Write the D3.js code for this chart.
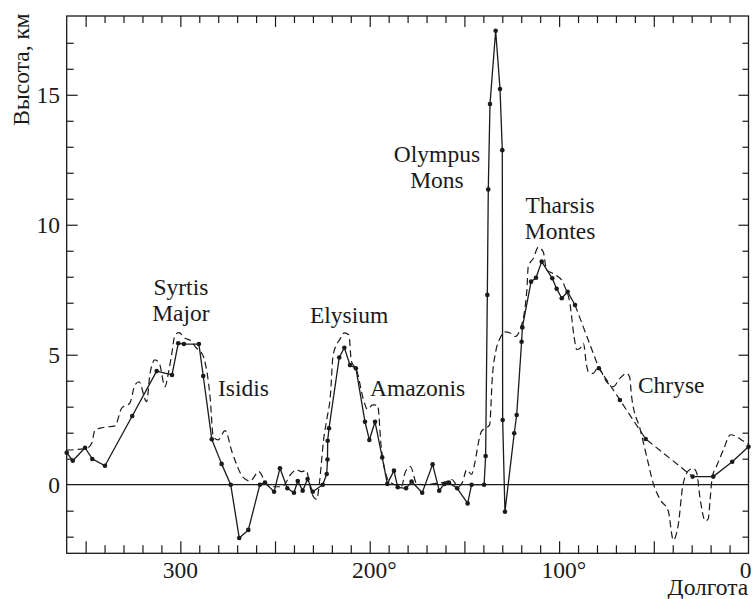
<!DOCTYPE html>
<html>
<head>
<meta charset="utf-8">
<script src="https://cdn.jsdelivr.net/npm/d3@7"></script>
<style>
  html, body { margin: 0; padding: 0; background: #fff; }
  svg { display: block; }
  text { font-family: "Liberation Serif", "DejaVu Serif", serif; fill: #1a1a1a; }
</style>
</head>
<body>
<svg id="chart" width="752" height="599"></svg>
<script>
// Elevation profile along the equator: measured points (solid, with dots)
const profileLon = [360,356.8,350.3,346.5,339.8,325.4,312.5,304.4,301.1,298.1,290.2,287.9,283.4,278.2,273.4,268.9,264.1,258,255.3,250.5,247.4,243.5,240,238,235.4,232.8,230.1,224.8,222.7,222.3,222.2,221.5,216.1,213.4,210.4,207.3,202.5,200.2,197.2,193.4,190.7,187.2,185.2,180.8,177.9,172.3,166.8,163.3,160.6,158.2,153.8,148.3,146.2,139.6,138.8,137.9,137.4,136.5,133.5,131.2,130.0,129.8,128.6,123.7,122.4,119.8,119.4,114.8,112.2,109.2,103.6,101.3,98.6,95.5,91.6,79,67.9,54.3,29.5,18.6,8.6,0];
const profileH = [1.23,0.92,1.42,0.99,0.73,2.64,4.37,4.22,5.44,5.41,5.41,4.18,1.75,0.80,0.0,-2.05,-1.74,0.0,0.08,-0.27,0.63,-0.14,-0.31,0.14,-0.23,0.22,-0.27,0.0,0.41,0.97,1.69,2.17,4.89,5.27,4.6,4.48,2.42,1.72,2.42,1.05,0.03,0.54,-0.1,-0.14,0.12,-0.31,0.78,-0.23,0.03,0.08,-0.14,-0.72,0.0,0.0,1.1,7.3,11.36,14.64,17.46,15.22,12.87,2.49,-1.04,1.98,2.68,5.5,6.05,7.81,7.96,8.58,7.94,7.54,7.17,7.42,6.91,4.48,3.26,1.76,0.31,0.31,0.88,1.46];
// Longitude span where the measured profile is bridged (drawn dashed)
const bridgeFrom = 91.6, bridgeTo = 29.5;

// Second profile (dashed, no markers)
const modelLon = [360,349.4,346.8,345.1,340.7,334.5,331,326.6,324,321.8,317.8,316,313.4,311.1,308.1,306.5,304.6,302.8,300.7,297.5,294.9,291.4,289.6,287.5,284.3,282.6,280,276.4,272.5,266.8,263.2,258.5,255.3,252.7,246.5,241.2,238.6,236,233.6,230.6,228,226.4,224.4,222.7,220.8,219.3,215.7,213.3,211,209.7,206.9,203.4,201.2,198.4,195.8,194,191,189.3,183.1,181.4,178.6,175,170,165,160,156.7,153.2,151,148.8,146.2,144.4,142.3,141,136.7,135.2,133.5,131.2,128.6,125,123.3,120.7,117.1,116.3,113.6,111,108.4,106.6,103.9,100.5,98.6,96.9,94.3,92.1,90.7,88.9,87.2,85.5,84.6,82,79.5,74.9,71.4,67.9,64.3,62.8,61.7,57.1,53.8,50.3,46.5,42.4,39.7,37.1,34.8,32.7,30.5,29.2,27.3,25.7,22.8,21.2,20.3,19.1,17,13.3,9.5,7,2.8,0];
const modelH = [1.33,1.40,1.59,2.10,2.20,2.26,2.94,3.15,3.83,3.96,3.19,4.28,4.80,4.67,3.77,4.22,5.00,5.76,5.85,5.63,5.56,5.25,5.15,4.86,3.38,1.85,1.72,2.08,1.21,0.28,0.14,0.50,0.12,-0.08,-0.08,0.44,0.57,0.50,0.54,-0.33,-0.56,0.18,1.70,2.50,3.40,5.00,5.60,5.84,5.76,4.75,4.41,3.30,2.90,3.07,3.05,1.50,0.30,0.10,-0.05,0.45,0.70,0.02,0.00,0.05,0.10,0.20,-0.08,0.10,0.57,0.40,0.88,1.72,2.05,2.30,4.20,5.11,5.63,5.88,5.80,5.70,5.95,7.42,8.38,8.71,9.13,8.96,8.26,8.15,8.00,7.87,7.60,6.98,5.69,5.20,5.25,5.44,4.60,4.35,4.28,4.50,3.96,3.77,4.09,4.28,4.15,3.38,2.10,1.10,0.05,-0.59,-1.00,-2.13,-1.55,-0.10,0.44,0.60,0.63,0.44,-0.46,-1.40,-1.30,-0.60,0.31,0.69,1.33,1.92,1.88,1.68,1.56];

// Axis ticks and labels
const xMajorTicks = [350,300,250,200,150,100,50];
const xMinorTicks = d3.range(10, 360, 10);
const xLabelValues = [300,200,100,0];
const xLabelNums = ["300","200","100","0"];
const xLabelDeg = ["","°","°",""];
const yMajorTicks = [5,10,15];
const yMinorTicks = [-2,-1,1,2,3,4,6,7,8,9,11,12,13,14,16,17];
const yLabelValues = [0,5,10,15];
const yLabels = ["0","5","10","15"];

// Region names (position given in longitude / height of the text baseline)
const regionNames = [["Syrtis","Major"],["Isidis"],["Elysium"],["Amazonis"],["Olympus","Mons"],["Tharsis","Montes"],["Chryse"]];
const regionLon = [299.7, 280.1, 210.9, 199.9, 164.5, 99.5, 58.4];
const regionH   = [7.3, 3.41, 6.22, 3.41, 12.4, 10.46, 3.54];
const regionAnchor = ["middle","start","middle","start","middle","middle","start"];

const yTitle = "Высота, км";
const xTitle = "Долгота";

const svg = d3.select("#chart");
const L = 66.7, R = 748.5, T = 16, B = 553.3;
const x = d3.scaleLinear().domain([360, 0]).range([L, R]);
const y = d3.scaleLinear().domain([-2.64, 18.03]).range([B, T]);
const FS = 23.5;
const ink = "#1a1a1a";

// Frame
svg.append("rect").attr("x", L).attr("y", T).attr("width", R - L).attr("height", B - T)
  .attr("fill", "none").attr("stroke", ink).attr("stroke-width", 1.3);

// Inward ticks on all four sides
function tickAxis(axisFn, scale, values, size, transform) {
  const g = svg.append("g").attr("transform", transform)
    .call(axisFn(scale).tickValues(values).tickSize(size).tickSizeOuter(0).tickFormat(""));
  g.select(".domain").remove();
  g.selectAll("line").attr("stroke", ink).attr("stroke-width", 1.2);
}
tickAxis(d3.axisBottom, x, xMinorTicks.filter(v => !xMajorTicks.includes(v)), -8, `translate(0,${B})`);
tickAxis(d3.axisBottom, x, xMajorTicks, -12, `translate(0,${B})`);
tickAxis(d3.axisTop, x, xMinorTicks.filter(v => !xMajorTicks.includes(v)), -7, `translate(0,${T})`);
tickAxis(d3.axisTop, x, xMajorTicks, -11, `translate(0,${T})`);
tickAxis(d3.axisLeft, y, yMinorTicks, -7, `translate(${L},0)`);
tickAxis(d3.axisLeft, y, yMajorTicks, -11, `translate(${L},0)`);
tickAxis(d3.axisRight, y, yMinorTicks, -6, `translate(${R},0)`);
tickAxis(d3.axisRight, y, yMajorTicks, -10, `translate(${R},0)`);

// Zero level
svg.append("line").attr("x1", L).attr("x2", R).attr("y1", y(0)).attr("y2", y(0))
  .attr("stroke", ink).attr("stroke-width", 1.3);

// Y tick labels
svg.append("g").selectAll("text").data(yLabelValues).join("text")
  .attr("x", 60).attr("y", d => y(d) + 8)
  .attr("text-anchor", "end").attr("font-size", FS)
  .text((d, i) => yLabels[i]);

// X tick labels: number centred on the tick, degree sign trailing;
// the label at the right edge is kept inside the canvas
const xl = svg.append("g");
xLabelValues.forEach((v, i) => {
  const atEdge = v === 0;
  const t = xl.append("text").attr("x", atEdge ? 751.5 : x(v)).attr("y", 578)
    .attr("text-anchor", atEdge ? "end" : "middle").attr("font-size", FS).text(xLabelNums[i]);
  if (xLabelDeg[i]) {
    const w = t.node().getComputedTextLength();
    xl.append("text").attr("x", x(v) + w / 2).attr("y", 578)
      .attr("font-size", FS).text(xLabelDeg[i]);
  }
});

// Axis titles
svg.append("text").attr("transform", "translate(28.5,13.3) rotate(-90)")
  .attr("text-anchor", "end").attr("font-size", FS).text(yTitle);
svg.append("text").attr("x", 748.3).attr("y", 595)
  .attr("text-anchor", "end").attr("font-size", FS).text(xTitle);

// Second profile (dashed)
const model = modelLon.map((d, i) => ({ lon: d, h: modelH[i] }));
svg.append("path").datum(model)
  .attr("d", d3.line().x(d => x(d.lon)).y(d => y(d.h)).curve(d3.curveMonotoneX))
  .attr("fill", "none").attr("stroke", ink).attr("stroke-width", 1.2)
  .attr("stroke-dasharray", "7,4");

// Measured profile
const prof = profileLon.map((d, i) => ({ lon: d, h: profileH[i] }));
const line = d3.line().x(d => x(d.lon)).y(d => y(d.h));
svg.append("path").datum(prof.filter(d => d.lon >= bridgeFrom))
  .attr("d", line).attr("fill", "none").attr("stroke", ink).attr("stroke-width", 1.3)
  .attr("stroke-linejoin", "round");
svg.append("path").datum(prof.filter(d => d.lon <= bridgeTo))
  .attr("d", line).attr("fill", "none").attr("stroke", ink).attr("stroke-width", 1.3);
svg.append("path").datum(prof.filter(d => d.lon <= bridgeFrom && d.lon >= bridgeTo))
  .attr("d", line).attr("fill", "none").attr("stroke", ink).attr("stroke-width", 1.2)
  .attr("stroke-dasharray", "7,4");
svg.append("g").selectAll("circle").data(prof).join("circle")
  .attr("cx", d => x(d.lon)).attr("cy", d => y(d.h)).attr("r", 2.3).attr("fill", ink);

// Region names
regionNames.forEach((lines, i) => {
  const t = svg.append("text").attr("font-size", FS).attr("text-anchor", regionAnchor[i])
    .attr("x", x(regionLon[i])).attr("y", y(regionH[i]));
  lines.forEach((s, k) => t.append("tspan").attr("x", x(regionLon[i])).attr("dy", k ? 26 : 0).text(s));
});
</script>
</body>
</html>
